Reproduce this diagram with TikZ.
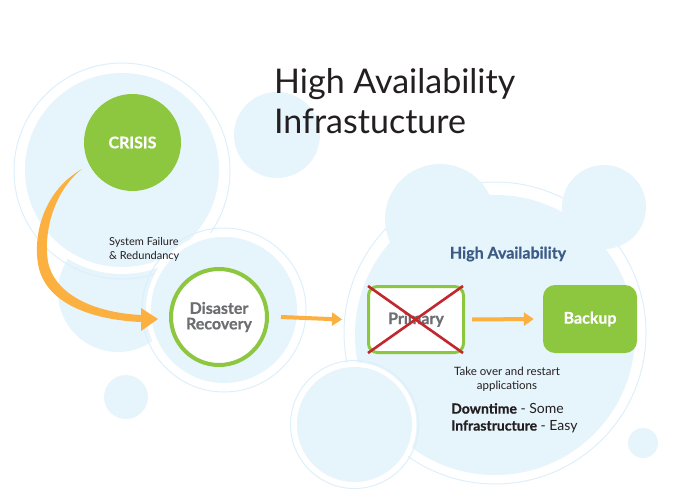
\documentclass[tikz,border=0pt]{standalone}
\usepackage{fontspec}
\setmainfont{Lato}[BoldFeatures={FakeBold=0.6}]
\usepackage{xcolor}
\usetikzlibrary{arrows.meta,positioning}
\definecolor{bubble}{HTML}{E6F4FC}
\definecolor{ringc}{HTML}{DDEFFA}
\definecolor{leaf}{HTML}{8DC63F}
\definecolor{amber}{HTML}{FBB040}
\definecolor{crossred}{HTML}{C1272D}
\definecolor{slate}{HTML}{6D6E71}
\definecolor{navy}{HTML}{3B5B85}
\definecolor{ink}{HTML}{231F20}

\begin{document}
\begin{tikzpicture}[x=1pt, y=-1pt,
  ring/.style={draw=ringc, line width=1pt},
  flow/.style={-{Triangle[length=10pt,width=13pt]}, amber, line width=4pt},
  boxlabel/.style={font=\bfseries\fontsize{16}{16}\selectfont},
  note/.style={inner sep=0pt, text=ink}]
  \useasboundingbox (0,0) rectangle (700,500);

  % Bubbles, left group
  \fill[bubble] (118,292) circle (60);
  \draw[ring] (122,171) circle (108);
  \fill[white] (122,170) circle (104);
  \fill[bubble] (122,170) circle (97);
  \draw[ring] (224,310) circle (82);
  \fill[white] (224,310) circle (78);
  \fill[bubble] (224,310) circle (73);
  \fill[bubble] (277,135) circle (43);
  \fill[bubble] (126,397) circle (22);

  % Bubbles, right group
  \draw[ring] (495,333) circle (151);
  \fill[white] (495,335) circle (146);
  \fill[bubble] (495,335) circle (140);
  \fill[bubble] (440,219) circle (55);
  \fill[bubble] (604,207) circle (42);
  \draw[ring] (354.5,424.5) circle (64);
  \fill[white] (354.5,424.5) circle (62);
  \fill[bubble] (354.5,424.5) circle (57.5);
  \fill[bubble] (643,443) circle (15);

  % Nodes
  \node[circle, fill=leaf, minimum size=97pt, text=white, boxlabel] (crisis) at (132.5,142.5) {CRISIS};
  \node[circle, draw=leaf, line width=4pt, fill=white, minimum size=96pt, text=slate,
        align=center, font=\bfseries\fontsize{16}{15.5}\selectfont] (dr) at (219,317) {Disaster\\Recovery};
  \node[draw=leaf, line width=3pt, fill=white, rounded corners=9pt, minimum width=95pt,
        minimum height=66pt, text=slate, boxlabel] (primary) at (416,319.5) {Primary};
  \node[fill=leaf, rounded corners=12pt, minimum width=94pt, minimum height=68pt,
        text=white, boxlabel] (backup) at (590,319) {Backup};

  % Primary is down
  \draw[crossred, line width=2.6pt] ([shift={(1,1)}]primary.north west) -- ([shift={(-2,-1)}]primary.south east);
  \draw[crossred, line width=2.6pt] ([shift={(-2,1)}]primary.north east) -- ([shift={(1,-1)}]primary.south west);

  % Transitions
  \fill[amber] (82,169) .. controls (45,190) and (33,232) .. (38,264)
    .. controls (45,305) and (95,320) .. (141,322) -- (141,331) -- (158,319) -- (141,308)
    -- (141,315) .. controls (100,313) and (56,298) .. (48,262)
    .. controls (43,230) and (55,190) .. (82,169) -- cycle;
  \draw[flow] ([xshift=12pt]dr.east) -- ([xshift=-25pt]primary.west);
  \draw[flow] ([xshift=7pt]primary.east) -- ([xshift=-9pt]backup.west);

  % Labels
  \node[note, anchor=north west, align=left, font=\fontsize{34}{40}\selectfont] (title) at (274,68)
       {High Availability\\Infrastucture};
  \node[note, anchor=north west, align=left, font=\fontsize{11}{14}\selectfont] (failure) at (109,237)
       {System Failure\\\& Redundancy};
  \node[note, text=navy, font=\bfseries\fontsize{16}{16}\selectfont] (ha) at (508,254) {High Availability};
  \node[note, anchor=north, align=center, font=\fontsize{11.5}{14}\selectfont] (takeover) at (507,367)
       {Take over and restart\\applications};
  \node[note, anchor=north west, align=left, font=\fontsize{14}{17}\selectfont] (cost) at (451,403)
       {\textbf{Downtime} - Some\\\textbf{Infrastructure} - Easy};
\end{tikzpicture}
\end{document}
